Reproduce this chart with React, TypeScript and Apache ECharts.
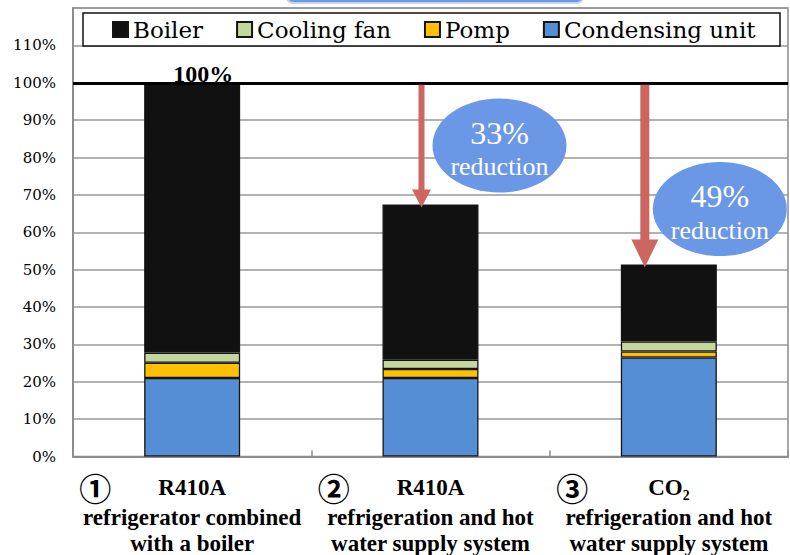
import React, { useEffect, useRef } from 'react';
import * as echarts from 'echarts';

const categories = ['System 1', 'System 2', 'System 3'];
const circled = ['①', '②', '③'];
const refrigerants = ['R410A', 'R410A', 'CO₂'];
const systemLine1 = ['refrigerator combined', 'refrigeration and hot', 'refrigeration and hot'];
const systemLine2 = ['with a boiler', 'water supply system', 'water supply system'];

const condensingUnit = [21.0, 21.0, 26.5];
const pomp = [4.1, 2.4, 1.6];
const coolingFan = [2.7, 2.5, 2.7];
const boiler = [72.2, 41.5, 20.6];

const yTickLabels = ['0%', '10%', '20%', '30%', '40%', '50%', '60%', '70%', '80%', '90%', '100%', '110%'];
const topLabel = '100%';
const reductions = ['33%', '49%'];
const reductionWord = 'reduction';
const legendNames = ['Boiler', 'Cooling fan', 'Pomp', 'Condensing unit'];

export default function App() {
  const ref = useRef<HTMLDivElement>(null);
  useEffect(() => {
    const chart = echarts.init(ref.current!, null, { renderer: 'svg' });
    const border = { borderColor: '#141414', borderWidth: 1.3 };
    const gapWidths = [43, 43, 56];
    const rich: any = {
      n: { fontFamily: 'Noto Sans CJK JP', fontSize: 32, fontWeight: 'bold', lineHeight: 35, width: 40, align: 'center', color: '#000' },
      b: { fontFamily: 'Liberation Serif', fontWeight: 'bold', fontSize: 23, lineHeight: 26, color: '#000' },
      e: { width: 40, lineHeight: 26 },
    };
    gapWidths.forEach((w, i) => { rich['s' + i] = { width: w, lineHeight: 26 }; });

    const option: any = {
      animation: false,
      backgroundColor: '#fff',
      grid: { left: 73, right: 2, top: 8, bottom: 96, show: true, borderColor: '#8c8c8c', borderWidth: 1.5, backgroundColor: 'transparent' },
      legend: {
        data: legendNames,
        left: 112,
        top: 18,
        itemWidth: 15,
        itemHeight: 15,
        itemGap: 33,
        icon: 'rect',
        padding: 0,
        z: 6,
        textStyle: { fontFamily: 'DejaVu Serif', fontSize: 23, color: '#000' },
      },
      xAxis: {
        type: 'category',
        data: categories,
        axisLine: { show: true, lineStyle: { color: '#8c8c8c', width: 2 } },
        axisTick: { show: true, inside: true, length: 6, lineStyle: { color: '#8c8c8c', width: 1.5 } },
        axisLabel: {
          interval: 0,
          margin: 13,
          formatter: (_: string, i: number) =>
            `{n|${circled[i]}}{s${i}| }{b|${refrigerants[i]}}{s${i}| }{e| }\n{b|${systemLine1[i]}}\n{b|${systemLine2[i]}}`,
          rich,
        },
      },
      yAxis: {
        type: 'value',
        min: 0,
        max: 120,
        interval: 10,
        axisLine: { show: true, lineStyle: { color: '#8c8c8c', width: 2 } },
        axisTick: { show: false },
        splitLine: { show: true, lineStyle: { color: '#999', width: 1.5 } },
        axisLabel: {
          margin: 17,
          fontFamily: 'DejaVu Serif',
          fontSize: 15,
          color: '#000',
          formatter: (v: number) => yTickLabels[Math.round(v / 10)] ?? '',
        },
      },
      series: [
        { name: 'Condensing unit', type: 'bar', stack: 'total', barWidth: 96, data: condensingUnit, itemStyle: { color: '#558ed5', ...border } },
        { name: 'Pomp', type: 'bar', stack: 'total', barWidth: 96, data: pomp, itemStyle: { color: '#ffc000', ...border } },
        { name: 'Cooling fan', type: 'bar', stack: 'total', barWidth: 96, data: coolingFan, itemStyle: { color: '#c3d69b', ...border } },
        {
          name: 'Boiler', type: 'bar', stack: 'total', barWidth: 96,
          data: boiler.map((v, i) => i === 0 ? {
            value: v,
            label: { show: true, position: 'top', distance: -3, offset: [11, 0], formatter: topLabel, fontFamily: 'Liberation Serif', fontWeight: 'bold', fontSize: 24, color: '#000' },
          } : v),
          itemStyle: { color: '#111111', ...border },
          markLine: {
            silent: true,
            symbol: ['none', 'none'],
            label: { show: false },
            lineStyle: { color: '#000', width: 3, type: 'solid' },
            data: [{ yAxis: 100 }],
          },
        },
      ],
    };
    chart.setOption(option);

    const totals = categories.map((_, i) => condensingUnit[i] + pomp[i] + coolingFan[i] + boiler[i]);
    const y100 = chart.convertToPixel({ yAxisIndex: 0 }, 100) as number;
    const arrowSpecs = [
      { bar: 1, dx: -9, sw: 6, hw: 19, hl: 18, ex: 69, ey: 83.2 },
      { bar: 2, dx: -24, sw: 9, hw: 27, hl: 28, ex: 51, ey: 66.2 },
    ];
    const elements: any[] = [
      { type: 'rect', z: 1, shape: { x: 287, y: -28, width: 296, height: 31, r: 6 }, style: { fill: '#6a9be0', stroke: '#c9d3e2', lineWidth: 2 } },
      { type: 'rect', z: 3, shape: { x: 83, y: 13, width: 697, height: 33 }, style: { fill: '#fff', stroke: '#111', lineWidth: 1.5 } },
    ];
    arrowSpecs.forEach((a, k) => {
      const cx = chart.convertToPixel({ xAxisIndex: 0 }, categories[a.bar]) as number;
      const ax = cx + a.dx;
      const ty = (chart.convertToPixel({ yAxisIndex: 0 }, totals[a.bar]) as number) + 3;
      const y0 = y100 + 2;
      const hy = ty - a.hl;
      elements.push({
        type: 'polygon', z: 10,
        shape: { points: [[ax - a.sw / 2, y0], [ax + a.sw / 2, y0], [ax + a.sw / 2, hy], [ax + a.hw / 2, hy], [ax, ty], [ax - a.hw / 2, hy], [ax - a.sw / 2, hy]] },
        style: { fill: '#cd6661' },
      });
      const ecx = cx + a.ex;
      const ecy = chart.convertToPixel({ yAxisIndex: 0 }, a.ey) as number;
      elements.push({ type: 'ellipse', z: 11, shape: { cx: ecx, cy: ecy, rx: 67, ry: 47 }, style: { fill: '#6a98e6' } });
      elements.push({
        type: 'text', z: 12, x: ecx, y: ecy - 13,
        style: { text: reductions[k], fill: '#fff', fontFamily: 'Liberation Serif', fontSize: 32, align: 'center', verticalAlign: 'middle', textAlign: 'center', textVerticalAlign: 'middle' },
      });
      elements.push({
        type: 'text', z: 12, x: ecx, y: ecy + 21,
        style: { text: reductionWord, fill: '#fff', fontFamily: 'Liberation Serif', fontSize: 26, align: 'center', verticalAlign: 'middle', textAlign: 'center', textVerticalAlign: 'middle' },
      });
    });
    chart.setOption({ graphic: { elements } });

    return () => chart.dispose();
  }, []);
  return <div ref={ref} style={{ position: 'absolute', left: 0, top: 0, width: 790, height: 555, background: '#fff' }} />;
}
